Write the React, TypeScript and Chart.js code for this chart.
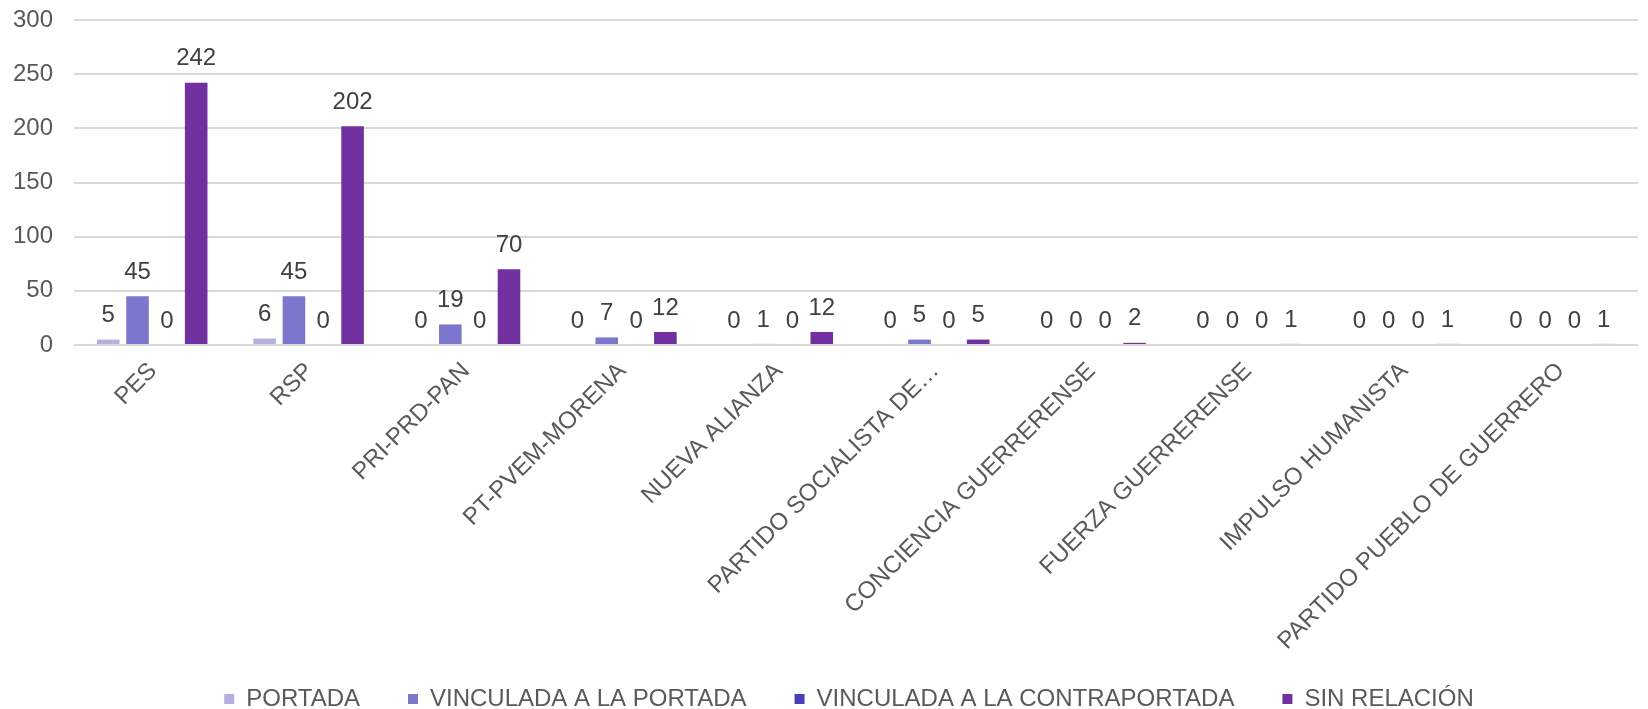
import React, { useEffect, useRef } from "react";
import { Chart, registerables } from "chart.js";

Chart.register(...registerables);

const categories = [
  "PES",
  "RSP",
  "PRI-PRD-PAN",
  "PT-PVEM-MORENA",
  "NUEVA ALIANZA",
  "PARTIDO SOCIALISTA DE…",
  "CONCIENCIA GUERRERENSE",
  "FUERZA GUERRERENSE",
  "IMPULSO HUMANISTA",
  "PARTIDO PUEBLO DE GUERRERO",
];

const portada = [5, 6, 0, 0, 0, 0, 0, 0, 0, 0];
const vinculadaPortada = [45, 45, 19, 7, 1, 5, 0, 0, 0, 0];
const vinculadaContraportada = [0, 0, 0, 0, 0, 0, 0, 0, 0, 0];
const sinRelacion = [242, 202, 70, 12, 12, 5, 2, 1, 1, 1];

const yTicks = [0, 50, 100, 150, 200, 250, 300];

const FONT = "'Liberation Sans', Arial, sans-serif";
const FS = 24;
const LEGEND_BOTTOM_PAD = -12;

const dataLabelPlugin = {
  id: "dataLabels",
  afterLayout(chart: any) {
    if (chart.legend) {
      chart.legend.left -= 7;
      chart.legend.right -= 7;
    }
    // let the rotated category labels run past the axis box (no clipping)
    if (chart.scales.x) {
      chart.scales.x.bottom = chart.height;
    }
  },
  afterDatasetsDraw(chart: any) {
    const ctx = chart.ctx;
    const yScale = chart.scales.y;
    const zeroY = yScale.getPixelForValue(0);
    ctx.save();
    ctx.strokeStyle = "#d9d9d9";
    ctx.lineWidth = 2;
    ctx.beginPath();
    ctx.moveTo(chart.chartArea.left, zeroY);
    ctx.lineTo(chart.chartArea.right, zeroY);
    ctx.stroke();
    ctx.fillStyle = "#404040";
    ctx.font = `${FS}px ${FONT}`;
    ctx.textAlign = "center";
    ctx.textBaseline = "middle";
    chart.data.datasets.forEach((ds: any, i: number) => {
      const meta = chart.getDatasetMeta(i);
      meta.data.forEach((el: any, j: number) => {
        const v = ds.data[j];
        ctx.fillText(String(v), el.x, el.y - 24);
      });
    });
    ctx.restore();
  },
};

export default function App() {
  const ref = useRef<HTMLCanvasElement>(null);
  useEffect(() => {
    const canvas = ref.current!;
    const chart = new Chart(canvas, {
      type: "bar",
      data: {
        labels: categories,
        datasets: [
          { label: "PORTADA", data: portada, backgroundColor: "#b5b1df" },
          { label: "VINCULADA A LA PORTADA", data: vinculadaPortada, backgroundColor: "#7b77cc" },
          { label: "VINCULADA A LA CONTRAPORTADA", data: vinculadaContraportada, backgroundColor: "#4a3fba" },
          { label: "SIN RELACIÓN", data: sinRelacion, backgroundColor: "#7030a0" },
        ],
      },
      options: {
        responsive: false,
        animation: false,
        datasets: {
          bar: { categoryPercentage: 0.75, barPercentage: 0.77 },
        },
        layout: { padding: { left: 0, right: 10, top: 20, bottom: LEGEND_BOTTOM_PAD } },
        plugins: {
          tooltip: { enabled: false },
          legend: {
            position: "bottom",
            fullSize: false,
            labels: {
              boxWidth: 10,
              boxHeight: 10,
              padding: 48,
              color: "#595959",
              font: { family: FONT, size: FS },
            },
          },
        },
        scales: {
          x: {
            grid: { display: false },
            border: { display: false },
            afterFit(scale: any) {
              scale.height = 294;
            },
            ticks: {
              color: "#595959",
              font: { family: FONT, size: FS },
              maxRotation: 45,
              minRotation: 45,
              autoSkip: false,
              padding: 4,
              labelOffset: 1,
            },
          },
          y: {
            min: 0,
            max: 300,
            afterBuildTicks(scale: any) {
              scale.ticks = yTicks.map((v) => ({ value: v }));
            },
            afterFit(scale: any) {
              scale.width = 74;
              scale.paddingTop = 0;
              scale.paddingBottom = 0;
            },
            grid: { color: "#d9d9d9", lineWidth: 2, drawTicks: false },
            border: { display: false },
            ticks: {
              color: "#595959",
              font: { family: FONT, size: FS },
              padding: 21,
            },
          },
        },
      },
      plugins: [dataLabelPlugin],
    });
    return () => chart.destroy();
  }, []);
  return (
    <div style={{ position: "absolute", left: 0, top: 0, width: 1648, height: 709, background: "#fff" }}>
      <canvas ref={ref} width={1648} height={709} />
    </div>
  );
}
